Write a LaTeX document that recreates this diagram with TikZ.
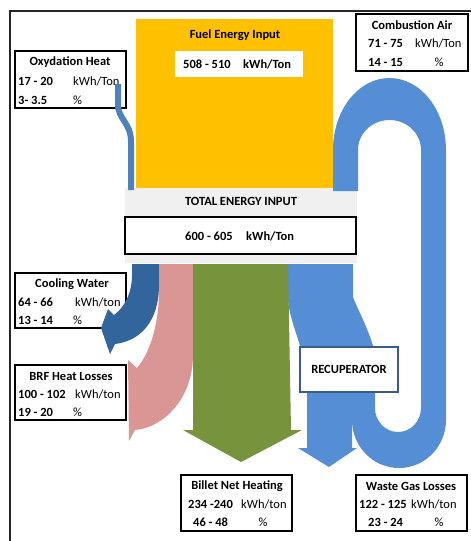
\documentclass[tikz,border=0pt]{standalone}
\usepackage{fontspec}
\setmainfont{Carlito}
\usepackage{tikz}
\usetikzlibrary{positioning}
\definecolor{fuelorange}{RGB}{255,192,0}
\definecolor{airblue}{RGB}{85,142,213}
\definecolor{oxyblue}{RGB}{79,129,189}
\definecolor{waterblue}{RGB}{49,101,155}
\definecolor{brfpink}{RGB}{217,150,148}
\definecolor{billetgreen}{RGB}{119,147,60}
\definecolor{bandgray}{RGB}{240,240,240}
\definecolor{recupblue}{RGB}{56,93,138}

\tikzset{
  every node/.style={font=\fontsize{12.5}{15}\selectfont},
  databox/.style={draw=black, line width=1.5pt, fill=white, inner sep=0pt,
    minimum width=111pt, minimum height=56pt},
  boxtitle/.style={font=\fontsize{12.5}{15}\selectfont\bfseries, inner sep=0pt},
  boxval/.style={font=\fontsize{12.5}{15}\selectfont\bfseries, anchor=west, inner sep=0pt},
  boxunit/.style={anchor=west, inner sep=0pt},
}

\begin{document}
\begin{tikzpicture}[x=1pt, y=-1pt]
    \useasboundingbox (0,0) rectangle (471,541);
    \draw[line width=1.2pt, black!85] (10,541) -- (10,11) -- (471,11);

    % fuel input and total band
    \fill[fuelorange] (136,19) rectangle (333,188);
    \node[fill=white, minimum width=128pt, minimum height=26pt] (fuelval) at (239,64) {};
    \node[boxtitle] (fueltitle) at (235,35) {Fuel Energy Input};
    \node[boxval] (fuelnum) at (183,64) {508 - 510};
    \node[boxval] (fuelunit) at (243,64) {kWh/Ton};
    \fill[bandgray] (125,188) rectangle (357,263);
    \node[boxtitle] (totaltitle) at (241,201) {TOTAL ENERGY INPUT};
    \node[draw=black, line width=1.5pt, fill=white, minimum width=231pt, minimum height=37pt] (totalbox) at (240.5,235.5) {};
    \node[boxval] (totalnum) at (185,236) {600 - 605};
    \node[boxval] (totalunit) at (246,236) {kWh/Ton};

    % recirculated air loop
    \fill[airblue] (333,191) -- (333,150) arc[start angle=180, end angle=360, x radius=56.5, y radius=72]
      -- (446,420) arc[start angle=0, end angle=180, x radius=47, y radius=48]
      -- (352,390) -- (375,390) -- (375,408) arc[start angle=180, end angle=0, x radius=23, y radius=24]
      -- (421,150) arc[start angle=0, end angle=-180, x radius=31.5, y radius=30]
      -- (358,191) -- cycle;
    \fill[airblue] (287,264) -- (353,264) -- (353,297) .. controls (358,310) and (368,328) .. (374,349)
      -- (301,349) .. controls (297,335) and (289,315) .. (288,300) -- cycle;
    \fill[airblue] (307,390) -- (352,390) -- (352,448) -- (357,448) -- (329,467) -- (298,448) -- (307,448) -- cycle;
    \node[draw=recupblue, line width=1.5pt, fill=white, minimum width=98pt, minimum height=45pt] (recup) at (349,369.5) {\bfseries RECUPERATOR};

    % data boxes
    \node[databox, minimum height=57pt] (oxybox) at (70.5,79.5) {};
    \node[boxtitle] (oxytitle) at (70,62) {Oxydation Heat};
    \node[boxval] (oxynum) at (18,81) {17 - 20};
    \node[boxunit] (oxyunit) at (73,81) {kWh/Ton};
    \node[boxval] (oxypct) at (18,100) {3- 3.5};
    \node[boxunit] (oxypctunit) at (73,100) {\%};

    \node[databox, minimum width=112pt, minimum height=57pt] (airbox) at (412,42.5) {};
    \node[boxtitle] (airtitle) at (412,25) {Combustion Air};
    \node[boxval] (airnum) at (368,43) {71 - 75};
    \node[boxunit] (airunit) at (415,43) {kWh/Ton};
    \node[boxval] (airpct) at (368,62) {14 - 15};
    \node[inner sep=0pt] (airpctunit) at (439,62) {\%};

    \node[databox, minimum height=55pt] (waterbox) at (70.5,300.5) {};
    \node[boxtitle] (watertitle) at (72,284) {Cooling Water};
    \node[boxval] (waternum) at (18,302) {64 - 66};
    \node[boxunit] (waterunit) at (75,302) {kWh/ton};
    \node[boxval] (waterpct) at (18,320) {13 - 14};
    \node[boxunit] (waterpctunit) at (73,320) {\%};

    \node[databox, minimum height=55pt] (brfbox) at (70.5,392.5) {};
    \node[boxtitle] (brftitle) at (71,376) {BRF Heat Losses};
    \node[boxval] (brfnum) at (18,394) {100 - 102};
    \node[boxunit] (brfunit) at (75,394) {kWh/ton};
    \node[boxval] (brfpct) at (18,412) {19 - 20};
    \node[boxunit] (brfpctunit) at (73,412) {\%};

    \node[databox, minimum height=56pt] (billetbox) at (236.5,503) {};
    \node[boxtitle] (billettitle) at (237,486) {Billet Net Heating};
    \node[boxval] (billetnum) at (188,504) {234 -240};
    \node[boxunit] (billetunit) at (241,504) {kWh/ton};
    \node[boxval] (billetpct) at (193,522) {46 - 48};
    \node[inner sep=0pt] (billetpctunit) at (263,522) {\%};

    \node[databox, minimum height=56pt] (wastebox) at (411.5,503) {};
    \node[boxtitle] (wastetitle) at (411,486) {Waste Gas Losses};
    \node[boxval] (wastenum) at (359,504) {122 - 125};
    \node[boxunit] (wasteunit) at (411,504) {kWh/ton};
    \node[boxval] (wastepct) at (368,522) {23 - 24};
    \node[inner sep=0pt] (wastepctunit) at (439,522) {\%};

    % output flows
    \draw[oxyblue, line width=6pt] (118,84) -- (118,104) .. controls (118,120) and (131,122) .. (131,142) -- (131,190);
    \fill[waterblue] (132,264) -- (159,264) -- (159,285) .. controls (159,322) and (140,341) .. (115,344)
      -- (110,354) -- (101,328) -- (108,309) -- (114,315) .. controls (127,305) and (132,290) .. (132,275) -- cycle;
    \fill[brfpink] (159,264) -- (193,264) -- (193,355) .. controls (193,400) and (162,428) .. (135,430)
      -- (129,441) -- (128,360) -- (137,368) .. controls (152,350) and (159,320) .. (159,290) -- cycle;
    \fill[billetgreen] (193,264) -- (288,264) -- (291,430) -- (302,430) -- (241,462) -- (183,430) -- (193,430) -- cycle;
\end{tikzpicture}
\end{document}
